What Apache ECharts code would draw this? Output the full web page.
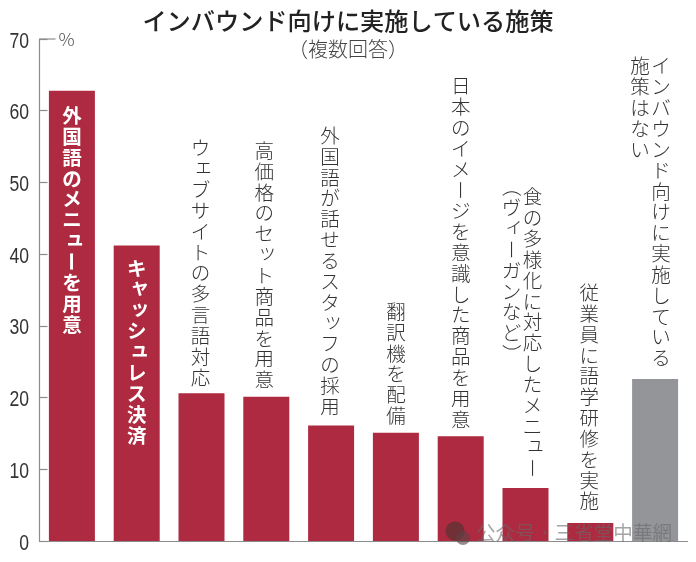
<!DOCTYPE html>
<html>
<head>
<meta charset="utf-8">
<style>html,body{margin:0;padding:0;background:#fff}#c{width:696px;height:562px}</style>
<script src="https://cdn.jsdelivr.net/npm/echarts@6/dist/echarts.min.js"></script>
</head>
<body>
<div id="c"></div>
<script>
const categories = [
  ['外国語のメニューを用意'],
  ['キャッシュレス決済'],
  ['ウェブサイトの多言語対応'],
  ['高価格のセット商品を用意'],
  ['外国語が話せるスタッフの採用'],
  ['翻訳機を配備'],
  ['日本のイメージを意識した商品を用意'],
  ['食の多様化に対応したメニュー', '（ヴィーガンなど）'],
  ['従業員に語学研修を実施'],
  ['インバウンド向けに実施している', '施策はない']
];
const values = [62.8, 41.2, 20.6, 20.1, 16.1, 15.1, 14.6, 7.4, 2.5, 22.6];
const yTicks = [0, 10, 20, 30, 40, 50, 60, 70];
const titleText = 'インバウンド向けに実施している施策';
const subtitleText = '（複数回答）';
const unitText = '%';
const watermarkText = '公众号 · 三省堂中華網';

// label layout, separate from the data: px distance from bar top, px shift of each column
const labelGap = [-25, -23, 16, 17, 19, 17, 17, 20, 22, 21];
const labelDx = [[0], [0], [-1], [-2], [-1], [0], [0], [7, -14], [-1], [6, -15]];
const col2Dy = { 7: -10, 9: 0 };

const CRIMSON = '#ad2a40', GREY = '#939598', AXIS = '#8c8c8c', INK = '#333';
const JP = '"Noto Sans CJK JP"';
const PITCH = 20.85;
const ROTATED = 'ー（）';
const SMALL = 'ェャッュィ';

function columnText(str, cx, startY, color, weight) {
  return Array.from(str).map((ch, i) => {
    const y = startY + i * PITCH;
    const small = SMALL.includes(ch);
    return {
      type: 'text',
      x: cx + (small ? 3 : 0),
      y: y - (small ? 3 : 0),
      rotation: ROTATED.includes(ch) ? -Math.PI / 2 : 0,
      style: {
        text: ch, align: 'center', verticalAlign: 'middle',
        font: weight + ' 19.5px ' + JP, fill: color
      }
    };
  });
}

const option = {
  animation: false,
  backgroundColor: '#fff',
  title: [
    { text: titleText, left: 343, top: 4, textAlign: 'center',
      textStyle: { fontFamily: JP, fontSize: 24.2, fontWeight: 500, color: '#222' } },
    { text: subtitleText, left: 343, top: 34, textAlign: 'center',
      textStyle: { fontFamily: JP, fontSize: 20, fontWeight: 300, color: '#444' } }
  ],
  grid: { left: 39.5, top: 39, width: 648, height: 502 },
  xAxis: {
    type: 'category',
    data: categories.map(c => c.join('')),
    axisLine: { lineStyle: { color: AXIS, width: 1.2 } },
    axisTick: { show: false },
    axisLabel: { show: false }
  },
  yAxis: {
    type: 'value', min: 0, max: 70, interval: 10,
    axisLine: { show: true, lineStyle: { color: AXIS, width: 1.2 } },
    axisTick: { show: true, inside: true, length: 8, lineStyle: { color: AXIS, width: 1.2 } },
    splitLine: { show: false },
    axisLabel: { show: false }
  },
  series: [
    {
      type: 'bar', barWidth: 46,
      data: values.map((v, i) => ({ value: v, itemStyle: { color: i === 9 ? GREY : CRIMSON } })),
      z: 2
    },
    {
      type: 'custom', z: 5, silent: true,
      data: values.map((v, i) => [i, v]),
      encode: { x: 0, y: 1 },
      renderItem(params, api) {
        const i = api.value(0), v = api.value(1);
        const p = api.coord([i, v]);
        const cols = categories[i];
        const kids = [];
        if (i < 2) {
          kids.push(...columnText(cols[0], p[0] + labelDx[i][0], p[1] - labelGap[i], '#fff', 'bold'));
        } else {
          const n = Array.from(cols[0]).length;
          const topY = p[1] - labelGap[i] - (n - 1) * PITCH;
          kids.push(...columnText(cols[0], p[0] + labelDx[i][0], topY, INK, 300));
          if (cols[1]) {
            kids.push(...columnText(cols[1], p[0] + labelDx[i][1], topY + col2Dy[i], INK, 300));
          }
        }
        if (i === 0) {
          const t = api.coord([0, 70]);
          const axisX = t[0] - 32.4;
          kids.push({ type: 'line', shape: { x1: axisX, y1: t[1], x2: axisX + 16, y2: t[1] },
            style: { stroke: AXIS, lineWidth: 1.2 } });
          kids.push({ type: 'text', x: axisX + 27, y: t[1],
            style: { text: unitText, align: 'center', verticalAlign: 'middle',
              font: '300 18px ' + JP, fill: '#555' } });
          yTicks.forEach(tick => {
            const q = api.coord([0, tick]);
            kids.push({ type: 'text', x: axisX - 10.5, y: q[1] + 2.5, scaleX: 0.8,
              style: { text: String(tick), align: 'right', verticalAlign: 'middle',
                font: '22px "Liberation Sans"', fill: INK } });
          });
        }
        return { type: 'group', children: kids };
      }
    }
  ],
  graphic: [
    { type: 'circle', shape: { cx: 455, cy: 531, r: 9.5 }, z: 20, style: { fill: 'rgba(90,50,50,0.72)' } },
    { type: 'circle', shape: { cx: 463, cy: 538, r: 7 }, z: 20, style: { fill: 'rgba(90,70,70,0.62)' } },
    { type: 'text', x: 476, y: 533, z: 20,
      style: { text: watermarkText, verticalAlign: 'middle', align: 'left',
        font: '19.6px ' + JP, fill: 'rgba(105,105,105,0.6)' } }
  ]
};
echarts.init(document.getElementById('c')).setOption(option);
</script>
</body>
</html>
